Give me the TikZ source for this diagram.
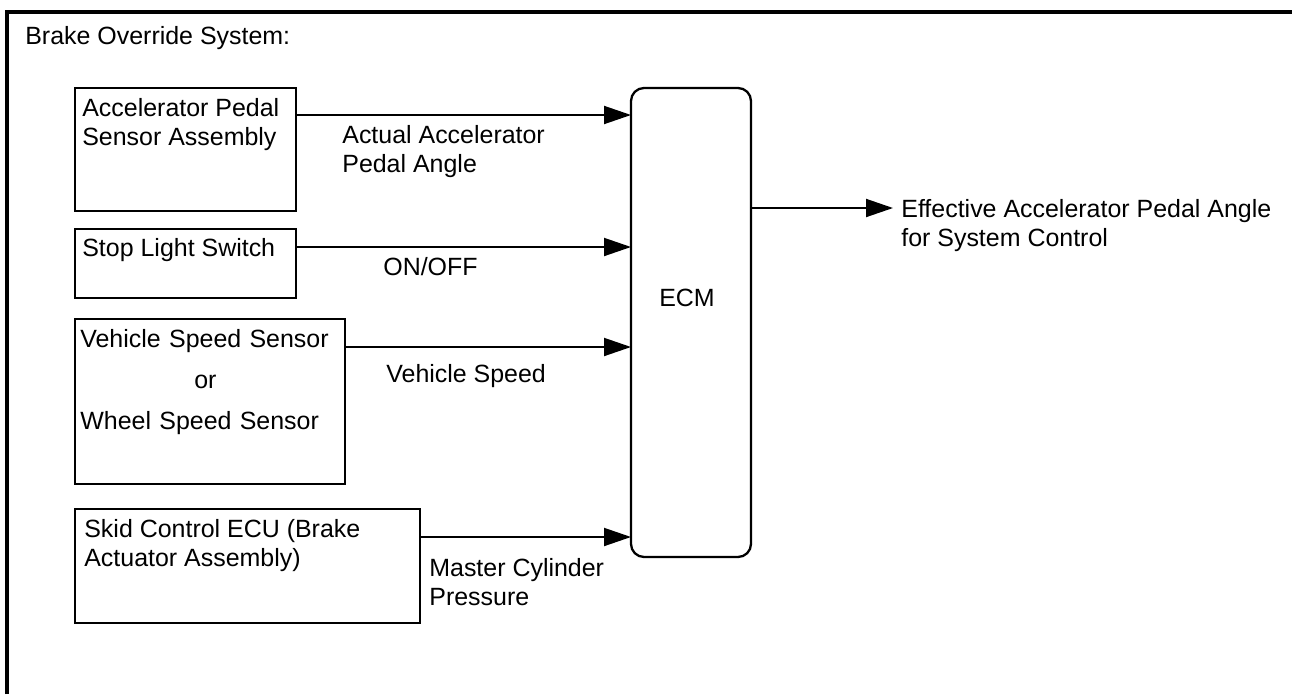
\documentclass[tikz,border=0pt]{standalone}
\usepackage{fontspec}
\setmainfont{Liberation Sans}
\usetikzlibrary{arrows.meta,positioning}

\begin{document}
\begin{tikzpicture}[
        block/.style={
            rectangle,
            draw,
            line width=1.3pt,
            inner sep=0pt,
            outer sep=0pt
        },
        ecmblock/.style={
            rectangle,
            draw,
            rounded corners=0.26cm,
            line width=1.3pt,
            minimum width=2.4cm,
            minimum height=9.38cm,
            inner sep=0pt,
            outer sep=0pt
        },
        txt/.style={
            anchor=north west,
            align=left,
            inner sep=0pt,
            font=\fontsize{14.2pt}{16.8pt}\selectfont
        },
        arrow/.style={-{Triangle[length=0.54cm,width=0.36cm]}, line width=1.1pt}
    ]

        \useasboundingbox (0,0) rectangle (25.84,-13.88);
        \draw[line width=1.9pt] (0.14,-13.88) |- (25.84,-0.24);

        \node[txt] (title) at (0.5,-0.52) {Brake Override System:};

        \node[block, minimum width=4.42cm, minimum height=2.46cm] (acc) at (3.71,-2.99) {};
        \node[block, minimum width=4.42cm, minimum height=1.38cm] (stop) at (3.71,-5.27) {};
        \node[block, minimum width=5.40cm, minimum height=3.30cm] (vss) at (4.20,-8.03) {};
        \node[block, minimum width=6.90cm, minimum height=2.28cm] (skid) at (4.95,-11.32) {};
        \node[ecmblock] (ecm) at (13.82,-6.45) {};

        \node[txt] (acctxt) at ([xshift=0.14cm,yshift=-0.2cm]acc.north west) {Accelerator Pedal\\Sensor Assembly};
        \node[txt] (stoptxt) at ([xshift=0.14cm,yshift=-0.18cm]stop.north west) {Stop Light Switch};
        \node[txt, text width=5.0cm] (vsstxt) at ([xshift=0.1cm,yshift=-0.2cm]vss.north west) {Vehicle Speed Sensor\\[0.23cm]\makebox[\hsize]{or}\\[0.23cm]Wheel Speed Sensor};
        \node[txt] (skidtxt) at ([xshift=0.18cm,yshift=-0.2cm]skid.north west) {Skid Control ECU (Brake\\Actuator Assembly)};
        \node[txt, anchor=center] (ecmtxt) at (13.74,-5.96) {ECM};

        \node[txt] (angle) at (6.84,-2.50) {Actual Accelerator\\Pedal Angle};
        \node[txt] (onoff) at (7.66,-5.14) {ON/OFF};
        \node[txt] (speed) at (7.72,-7.28) {Vehicle Speed};
        \node[txt] (pressure) at (8.58,-11.16) {Master Cylinder\\Pressure};

        \coordinate (outtip) at ([xshift=2.84cm,yshift=-2.4cm]ecm.north east);
        \node[txt] (effective) at ([xshift=0.16cm,yshift=0.18cm]outtip) {Effective Accelerator Pedal Angle\\for System Control};

        \draw[arrow] ([yshift=-0.54cm]acc.north east) -- ([yshift=-0.54cm]ecm.north west);
        \draw[arrow] ([yshift=-0.36cm]stop.north east) -- ([yshift=-3.18cm]ecm.north west);
        \draw[arrow] ([yshift=-0.56cm]vss.north east) -- ([yshift=-5.18cm]ecm.north west);
        \draw[arrow] ([yshift=-0.56cm]skid.north east) -- ([yshift=-8.98cm]ecm.north west);
        \draw[arrow] ([yshift=-2.4cm]ecm.north east) -- (outtip);

    \end{tikzpicture}
\end{document}
